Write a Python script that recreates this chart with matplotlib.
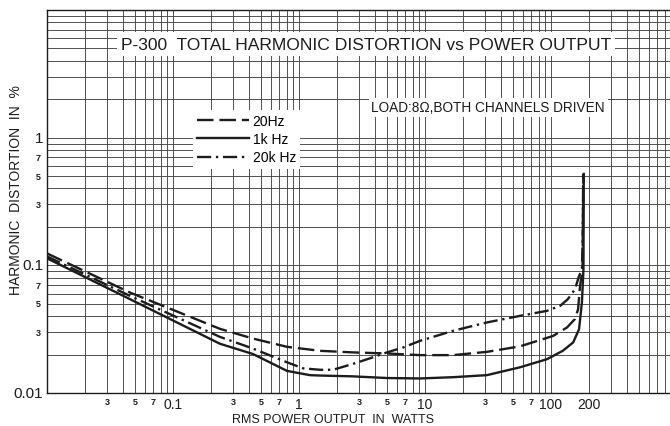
import numpy as np
import matplotlib.pyplot as plt
from matplotlib.ticker import LogLocator, NullFormatter, NullLocator

# power output (W) and THD (%)
p_1k = [0.01, 0.0456, 0.236, 0.431, 0.803, 1.22, 1.47, 2.68, 4.99, 9.12, 16.7,
        31.0, 56.8, 92.9, 124, 150, 167, 176, 181, 182]
thd_1k = [0.1135, 0.0543, 0.0243, 0.0202, 0.0149, 0.0138, 0.0137, 0.0135, 0.0131,
          0.0130, 0.0133, 0.0138, 0.0159, 0.0184, 0.0214, 0.0249, 0.0316, 0.0514,
          0.093, 0.52]

p_20k = [0.01, 0.0456, 0.236, 0.431, 0.803, 1.076, 1.47, 1.86, 2.68, 3.66, 4.99,
         6.68, 9.12, 16.7, 31.0, 56.8, 92.9, 118, 136, 155, 167, 176, 179, 181]
thd_20k = [0.1175, 0.0576, 0.0275, 0.0223, 0.0174, 0.0156, 0.0152, 0.0152, 0.0169,
           0.0187, 0.0208, 0.0227, 0.0256, 0.0307, 0.0357, 0.0402, 0.0440, 0.0481,
           0.0543, 0.0649, 0.0825, 0.093, 0.2, 0.52]

p_20 = [0.01, 0.0456, 0.236, 0.431, 0.803, 1.47, 2.68, 4.99, 9.12, 16.7, 31.0,
        56.8, 104, 134, 155, 164, 170, 178, 180]
thd_20 = [0.124, 0.0612, 0.0318, 0.0267, 0.0230, 0.0214, 0.0208, 0.0204, 0.0198,
          0.0198, 0.0210, 0.0232, 0.0280, 0.0326, 0.0380, 0.0453, 0.0689, 0.093, 0.52]

x_major = [0.1, 1, 10, 100, 200]
x_major_lbl = ['0.1', '1', '10', '100', '200']
x_minor = [0.03, 0.05, 0.07, 0.3, 0.5, 0.7, 3, 5, 7, 30, 50, 70]
x_minor_lbl = ['3', '5', '7'] * 4
y_major = [0.01, 0.1, 1]
y_major_lbl = ['0.01', '0.1', '1']
y_minor = [0.03, 0.05, 0.07, 0.3, 0.5, 0.7]
y_minor_lbl = ['3', '5', '7'] * 2

ink = '#1c1c1c'
font = 'Liberation Sans'

fig = plt.figure(figsize=(6.7, 4.27), dpi=100)
ax = fig.add_axes([47/670, 33/427, 623/670, 383/427])
ax.set_xscale('log')
ax.set_yscale('log')
ax.set_xlim(0.01, 880)
ax.set_ylim(0.01, 10)

# log paper grid
for axis in (ax.xaxis, ax.yaxis):
    axis.set_major_locator(LogLocator(base=10, subs=np.arange(1, 10), numticks=100))
    axis.set_major_formatter(NullFormatter())
    axis.set_minor_locator(NullLocator())
ax.tick_params(length=0)
ax.grid(True, which='major', color='#444444', lw=0.65)
for s in ('left', 'bottom', 'top'):
    ax.spines[s].set_color(ink)
    ax.spines[s].set_linewidth(1.0)
ax.spines['right'].set_visible(False)

ax.plot(p_20, thd_20, color=ink, lw=1.7, ls=(0, (7, 2.5)), label='20Hz')
ax.plot(p_1k, thd_1k, color=ink, lw=1.7, ls='-', label='1k Hz')
ax.plot(p_20k, thd_20k, color=ink, lw=1.7, ls=(0, (6, 2, 1, 2)), label='20k Hz')

leg = ax.legend(loc='upper left', bbox_to_anchor=(186/670, 1-104/427),
                bbox_transform=fig.transFigure, frameon=True, facecolor='white',
                edgecolor='none', framealpha=1, fancybox=False, borderpad=0.3,
                handlelength=3.7, handletextpad=0.3, labelspacing=0.3,
                prop={'family': font, 'size': 10})

# tick labels
xt = ax.get_xaxis_transform()
for v, s in zip(x_major, x_major_lbl):
    ax.text(v, -0.029, s, transform=xt, ha='center', va='center', fontsize=10,
            family=font, color=ink)
for v, s in zip(x_minor, x_minor_lbl):
    ax.text(v, -0.021, s, transform=xt, ha='center', va='center', fontsize=6.5,
            family=font, weight='bold', color=ink)
yt = ax.get_yaxis_transform()
for v, s in zip(y_major, y_major_lbl):
    ax.text(-0.006, v, s, transform=yt, ha='right', va='center', fontsize=11,
            family=font, color=ink)
for v, s in zip(y_minor, y_minor_lbl):
    ax.text(-0.01, v, s, transform=yt, ha='right', va='center',
            fontsize=6.5, family=font, weight='bold', color=ink)

ax.text(0.512, 0.911, 'P-300  TOTAL HARMONIC DISTORTION vs POWER OUTPUT',
        transform=ax.transAxes, ha='center', va='center', fontsize=12.6,
        family=font, color=ink,
        bbox=dict(facecolor='white', edgecolor='none', pad=3))
ax.text(0.708, 0.746, 'LOAD:8Ω,BOTH CHANNELS DRIVEN', transform=ax.transAxes,
        ha='center', va='center', fontsize=9.8, family=font, color=ink,
        bbox=dict(facecolor='white', edgecolor='none', pad=2))

fig.text(333/670, 1-420/427, 'RMS POWER OUTPUT  IN  WATTS', ha='center', va='center',
         fontsize=9, family=font, color=ink)
fig.text(16/670, 1-190/427, 'HARMONIC  DISTORTION  IN  %', ha='center', va='center',
         rotation=90, fontsize=10, family=font, color=ink)

plt.savefig('out.png', dpi=100)
